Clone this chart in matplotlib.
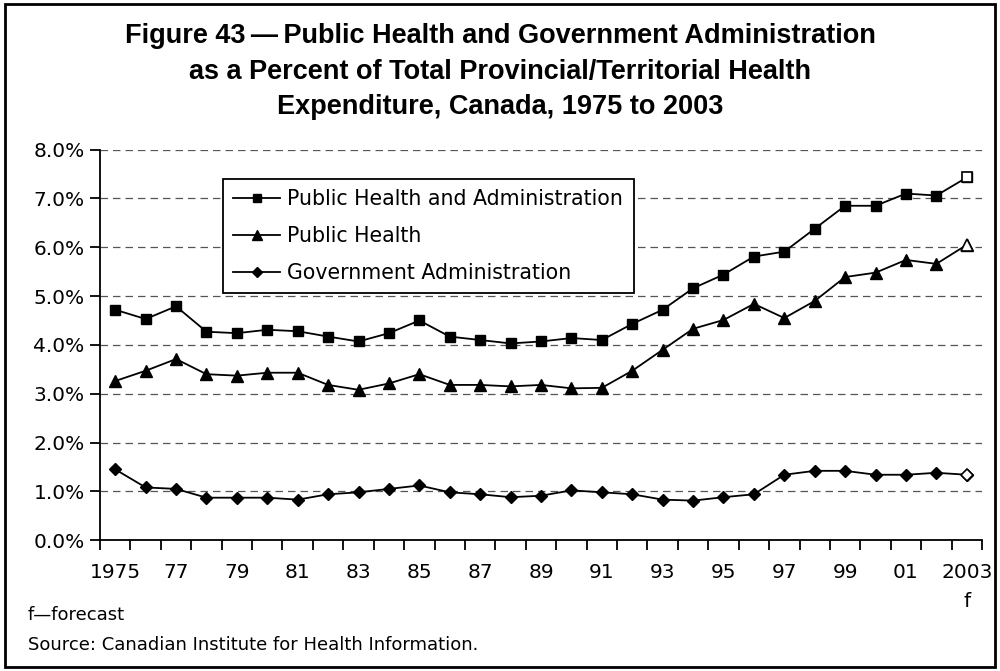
import matplotlib.pyplot as plt
from matplotlib.patches import Rectangle
from matplotlib.ticker import FixedLocator, NullFormatter

# data (percent of total provincial/territorial health expenditure)
years = list(range(1975, 2004))
pub_health_admin = [4.72, 4.53, 4.79, 4.27, 4.24, 4.31, 4.28, 4.17, 4.07, 4.24,
                    4.50, 4.17, 4.10, 4.03, 4.07, 4.14, 4.10, 4.43, 4.72, 5.16,
                    5.44, 5.81, 5.91, 6.38, 6.85, 6.85, 7.10, 7.06, 7.43]
pub_health = [3.26, 3.47, 3.71, 3.40, 3.37, 3.43, 3.43, 3.18, 3.08, 3.21,
              3.40, 3.18, 3.18, 3.15, 3.18, 3.11, 3.12, 3.47, 3.90, 4.33,
              4.51, 4.84, 4.55, 4.90, 5.39, 5.48, 5.74, 5.66, 6.05]
gov_admin = [1.45, 1.08, 1.05, 0.87, 0.87, 0.87, 0.83, 0.94, 0.98, 1.05,
             1.12, 0.98, 0.94, 0.88, 0.91, 1.02, 0.98, 0.94, 0.83, 0.81,
             0.88, 0.94, 1.34, 1.42, 1.42, 1.34, 1.34, 1.38, 1.34]
year_labels = ["1975", "77", "79", "81", "83", "85", "87", "89", "91", "93",
               "95", "97", "99", "01", "2003\nf"]
y_ticks = [0, 1, 2, 3, 4, 5, 6, 7, 8]
title_lines = ["Figure 43\u2009\u2014\u2009Public Health and Government Administration",
               "as a Percent of Total Provincial/Territorial Health",
               "Expenditure, Canada, 1975 to 2003"]

plt.rcParams["font.family"] = "DejaVu Sans"

fig = plt.figure(figsize=(10, 6.71), dpi=100)
ax = fig.add_axes([0.10, 0.195, 0.882, 0.582])

x = list(range(len(years)))
series = [
    (pub_health_admin, "s", 6.5, "Public Health and Administration"),
    (pub_health, "^", 8, "Public Health"),
    (gov_admin, "D", 6.5, "Government Administration"),
]
for vals, mk, ms, lab in series:
    # actual years filled, forecast year hollow
    ax.plot(x, vals, color="black", linewidth=1.3, marker=mk, markersize=ms,
            markerfacecolor="black", markeredgecolor="black", label=lab)
    ax.plot(x[-1], vals[-1], linestyle="none", marker=mk, markersize=ms,
            markerfacecolor="white", markeredgecolor="black", markeredgewidth=1.2)

# axes
ax.set_xlim(-0.5, len(years) - 0.5)
ax.set_ylim(0, 8)
ax.set_yticks(y_ticks)
ax.set_yticklabels([f"{v:.1f}%" for v in y_ticks])
ax.xaxis.set_major_locator(FixedLocator([i - 0.5 for i in range(len(years) + 1)]))
ax.xaxis.set_major_formatter(NullFormatter())
ax.xaxis.set_minor_locator(FixedLocator(x[::2]))
ax.set_xticklabels(year_labels, minor=True)
ax.tick_params(axis="x", which="major", direction="out", length=7, width=1.3)
ax.tick_params(axis="x", which="minor", length=0, pad=16.5, labelsize=14.5)
ax.tick_params(axis="y", direction="out", length=7, width=1.3, pad=4, labelsize=14.5)
for lab in ax.get_xticklabels(minor=True):
    lab.set_verticalalignment("top")
    lab.set_linespacing(1.65)

ax.spines["top"].set_visible(False)
ax.spines["right"].set_visible(False)
ax.spines["left"].set_linewidth(1.3)
ax.spines["bottom"].set_linewidth(1.3)
ax.yaxis.grid(True, linestyle=(0, (6, 4)), color="#555555", linewidth=0.9)
ax.set_axisbelow(True)

leg = ax.legend(loc="upper left", bbox_to_anchor=(0.139, 0.926), fontsize=14.8,
                frameon=True, fancybox=False, edgecolor="black", framealpha=1,
                handlelength=2.3, handletextpad=0.35, labelspacing=0.83,
                borderpad=0.5, borderaxespad=0, markerscale=0.85)
leg.get_frame().set_linewidth(1.3)

# title, one line at a time
for ty, line in zip([0.936, 0.882, 0.830], title_lines):
    fig.text(0.5, ty, line, ha="center", va="baseline", fontsize=19.5,
             fontweight="bold", family=["Liberation Sans", "DejaVu Sans"])

# notes
fig.text(0.028, 0.083, "f\u2014forecast", fontsize=13, va="center")
fig.text(0.028, 0.039, "Source: Canadian Institute for Health Information.",
         fontsize=13, va="center")

# outer frame
fig.patches.append(Rectangle((0.005, 0.006), 0.99, 0.988, transform=fig.transFigure,
                             fill=False, edgecolor="black", linewidth=2))

plt.savefig("out.png", dpi=100)
